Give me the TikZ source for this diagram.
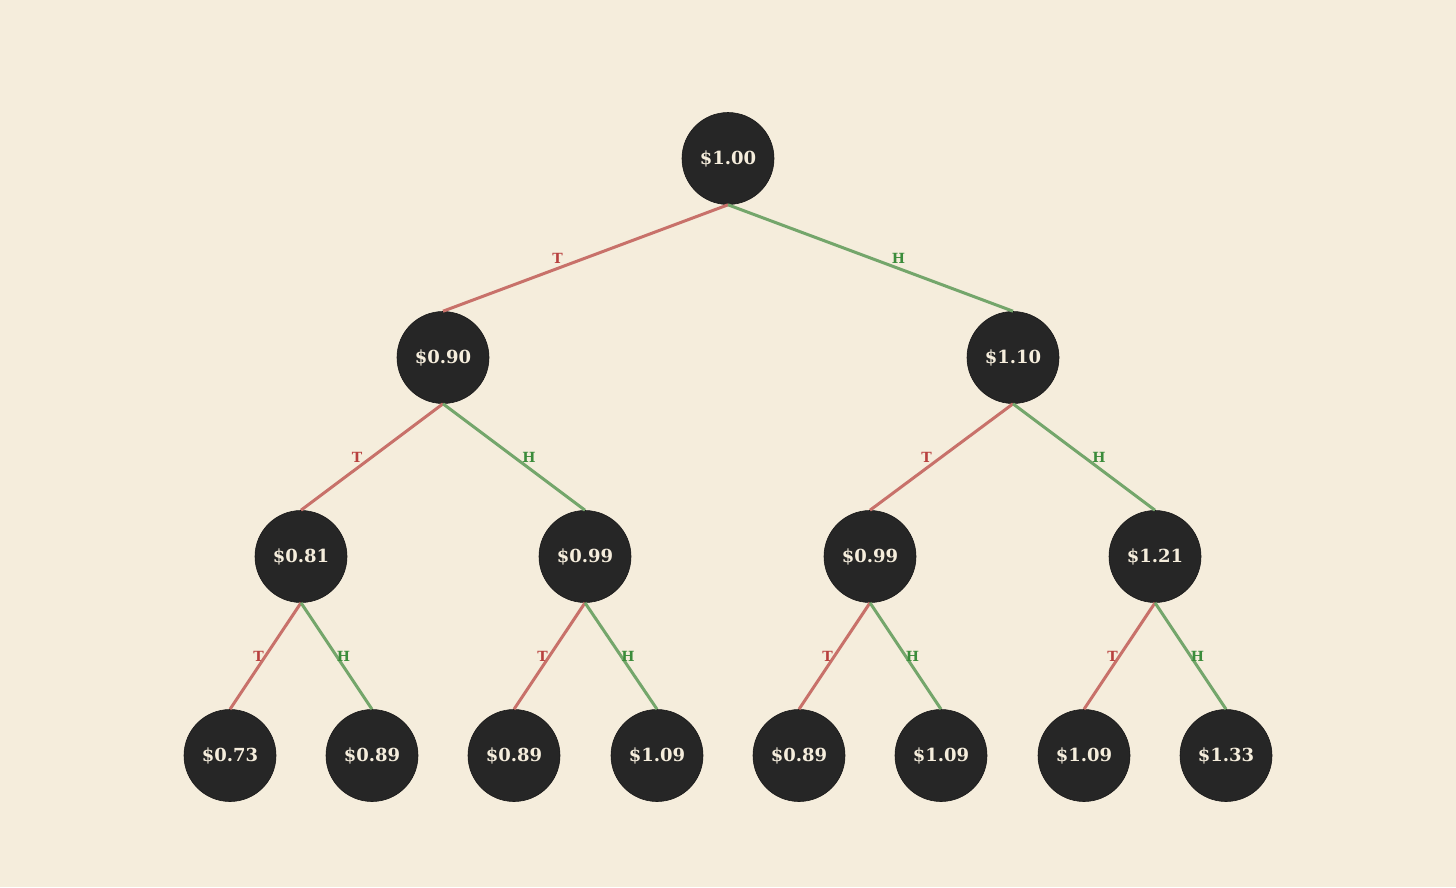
\documentclass[tikz,border=0pt]{standalone}
\usepackage{fontspec}
\setmainfont{DejaVu Serif}
\usetikzlibrary{calc}
\definecolor{bg}{HTML}{F5EDDC}
\definecolor{nodefill}{HTML}{262626}
\definecolor{redline}{HTML}{C8716A}
\definecolor{greenline}{HTML}{74A66B}
\definecolor{redlab}{HTML}{B8403E}
\definecolor{greenlab}{HTML}{3B8C3B}
\tikzset{
  val/.style={circle, fill=nodefill, draw=black!90, line width=0.6pt, minimum size=92pt, inner sep=0pt,
    text=bg, font=\bfseries\fontsize{18}{21}\selectfont},
  tedge/.style={draw=redline, line width=3pt},
  hedge/.style={draw=greenline, line width=3pt},
  tlab/.style={text=redlab, font=\bfseries\fontsize{14}{16}\selectfont, inner sep=0pt},
  hlab/.style={text=greenlab, font=\bfseries\fontsize{14}{16}\selectfont, inner sep=0pt},
}
\begin{document}
\begin{tikzpicture}[x=1pt,y=-1pt]
\fill[bg] (0,0) rectangle (1456,887);
\useasboundingbox (0,0) rectangle (1456,887);
\node[val] (r) at (728,158.5) {\$1.00};
\node[val] (a) at (443,357.5) {\$0.90};
\node[val] (b) at (1013,357.5) {\$1.10};
\node[val] (aa) at (301,556.5) {\$0.81};
\node[val] (ab) at (585,556.5) {\$0.99};
\node[val] (ba) at (870,556.5) {\$0.99};
\node[val] (bb) at (1155,556.5) {\$1.21};
\node[val] (aaa) at (230,755.5) {\$0.73};
\node[val] (aab) at (372,755.5) {\$0.89};
\node[val] (aba) at (514,755.5) {\$0.89};
\node[val] (abb) at (657,755.5) {\$1.09};
\node[val] (baa) at (799,755.5) {\$0.89};
\node[val] (bab) at (941,755.5) {\$1.09};
\node[val] (bba) at (1084,755.5) {\$1.09};
\node[val] (bbb) at (1226,755.5) {\$1.33};
% edges
\foreach \p/\c/\s in {r/a/28,a/aa/15,b/ba/15,aa/aaa/7,ab/aba/7,ba/baa/7,bb/bba/7}{
  \draw[tedge] (\p.south) -- (\c.north);
  \node[tlab] (lt\c) at ($(\p.south)!0.5!(\c.north)+(-\s,0)$) {T};
}
\foreach \p/\c/\s in {r/b/28,a/ab/15,b/bb/15,aa/aab/7,ab/abb/7,ba/bab/7,bb/bbb/7}{
  \draw[hedge] (\p.south) -- (\c.north);
  \node[hlab] (lh\c) at ($(\p.south)!0.5!(\c.north)+(\s,0)$) {H};
}
\end{tikzpicture}
\end{document}
